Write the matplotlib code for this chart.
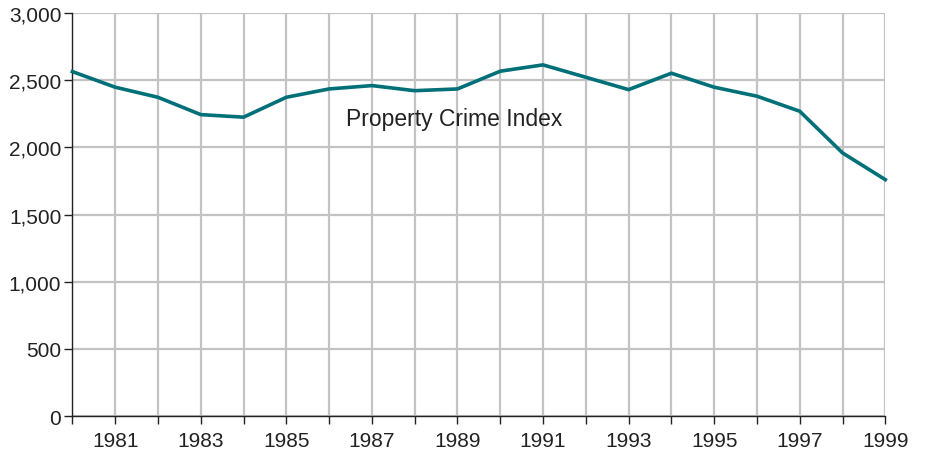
import matplotlib
matplotlib.use("Agg")
import matplotlib.pyplot as plt
from matplotlib.ticker import FuncFormatter, MultipleLocator

years = list(range(1980, 2000))
property_crime = [2564, 2448, 2373, 2244, 2225, 2373, 2435, 2460, 2422, 2435,
                  2567, 2614, 2522, 2430, 2552, 2448, 2381, 2269, 1959, 1760]
label_years = list(range(1981, 2000, 2))
series_label = "Property Crime Index"

plt.rcParams['font.family'] = ['Liberation Sans', 'DejaVu Sans']

fig = plt.figure(figsize=(9.28, 4.52), dpi=100)
ax = fig.add_axes([0.078, 0.077, 0.876, 0.892])

ax.plot(years, property_crime, color='#007078', linewidth=2.6, zorder=3,
        solid_joinstyle='miter', clip_on=False)

ax.set_xlim(1980, 1999)
ax.set_ylim(0, 3000)
ax.set_xticks(years)
ax.set_xticklabels([str(y) if y in label_years else '' for y in years])
ax.yaxis.set_major_locator(MultipleLocator(500))
ax.yaxis.set_major_formatter(FuncFormatter(lambda v, p: f"{int(v):,}"))

ax.grid(True, color='#c3c3c6', linewidth=1.6, zorder=1)
ax.set_axisbelow(True)
for s in ['top', 'right']:
    ax.spines[s].set_visible(False)
for s in ['left', 'bottom']:
    ax.spines[s].set_color('#222222')
    ax.spines[s].set_linewidth(1.0)
    ax.spines[s].set_zorder(2)

ax.tick_params(axis='both', direction='out', length=6, width=1.0,
               color='#222222', labelsize=15, labelcolor='#222222')
ax.tick_params(axis='x', pad=5)
ax.tick_params(axis='y', pad=2)

ax.text(1986.4, 2212, series_label, fontsize=16.5, color='#222222',
        ha='left', va='center', zorder=4)

fig.savefig("out.png", dpi=100)
